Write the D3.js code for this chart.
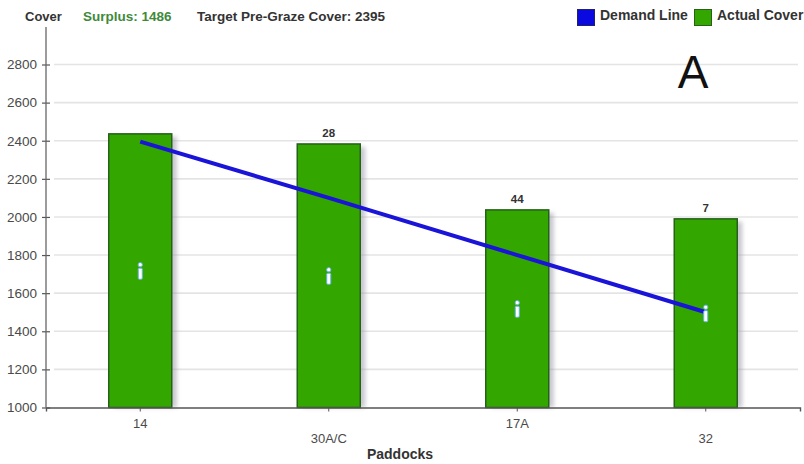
<!DOCTYPE html>
<html>
<head>
<meta charset="utf-8">
<script src="https://cdn.jsdelivr.net/npm/d3@7"></script>
<style>
  html, body { margin: 0; padding: 0; background: #fff; overflow: hidden; }
  svg { display: block; font-family: "Liberation Sans", Arial, sans-serif; }
</style>
</head>
<body>
<svg id="chart" width="804" height="464"></svg>
<script>
// Paddock cover compared with the grazing demand line
const paddocks = ["14", "30A/C", "17A", "32"];
const actualCover = [2436, 2383, 2037, 1990];
const demandLine = [2395, 2100, 1800, 1500];
const stockLabels = ["", "28", "44", "7"];
const yTicks = [1000, 1200, 1400, 1600, 1800, 2000, 2200, 2400, 2600, 2800];
const surplus = 1486;
const targetCover = 2395;

const BAR_GREEN = "#33a600";
const LINE_BLUE = "#1a14d8";

const svg = d3.select("#chart");

const margin = { left: 46, right: 800, top: 27, bottom: 407.5 };
const x = d3.scaleBand().domain(paddocks).range([margin.left, margin.right]);
const y = d3.scaleLinear().domain([1000, 2800]).range([margin.bottom, 64.5]);
const barWidth = 63;

const defs = svg.append("defs");
const shadow = defs.append("filter").attr("id", "barShadow")
  .attr("x", "-20%").attr("width", "140%");
shadow.append("feGaussianBlur").attr("stdDeviation", 2);

// Horizontal grid
svg.append("g").selectAll("line")
  .data(yTicks.filter(d => d > 1000))
  .join("line")
  .attr("x1", 54).attr("x2", 798)
  .attr("y1", d => y(d)).attr("y2", d => y(d))
  .attr("stroke", "#e4e4e4").attr("stroke-width", 1.6);

// Soft shadow to the right of each bar
svg.append("g").selectAll("rect")
  .data(paddocks)
  .join("rect")
  .attr("x", d => x(d) + x.bandwidth() / 2 - barWidth / 2 + 5)
  .attr("y", (d, i) => y(actualCover[i]) + 3)
  .attr("width", barWidth)
  .attr("height", (d, i) => y(1000) - y(actualCover[i]) - 3)
  .attr("fill", "#9a9aa8")
  .attr("opacity", 0.55)
  .attr("filter", "url(#barShadow)");

// Actual cover bars
svg.append("g").selectAll("rect")
  .data(paddocks)
  .join("rect")
  .attr("x", d => x(d) + x.bandwidth() / 2 - barWidth / 2)
  .attr("y", (d, i) => y(actualCover[i]))
  .attr("width", barWidth)
  .attr("height", (d, i) => y(1000) - y(actualCover[i]))
  .attr("fill", BAR_GREEN)
  .attr("stroke", "#26601a")
  .attr("stroke-width", 1.5);

// Axes
const yAxis = d3.axisLeft(y).tickValues(yTicks).tickFormat(d3.format("d")).tickSize(0).tickPadding(9);
const gy = svg.append("g").attr("transform", `translate(${margin.left},0)`).call(yAxis);
gy.select(".domain").remove();
gy.selectAll("text").attr("font-size", 13.5).attr("fill", "#4a4a4a");
gy.selectAll(".tick").append("line").attr("x1", -4).attr("x2", 4)
  .attr("stroke", "#555").attr("stroke-width", 1.2);

svg.append("line")
  .attr("x1", margin.left).attr("x2", margin.left)
  .attr("y1", margin.top).attr("y2", margin.bottom)
  .attr("stroke", "#666").attr("stroke-width", 1.3);

const xAxis = d3.axisBottom(x).tickSize(4).tickPadding(0);
const gx = svg.append("g").attr("transform", `translate(0,${margin.bottom})`).call(xAxis);
gx.select(".domain").attr("stroke", "#555").attr("stroke-width", 1.4);
gx.selectAll(".tick line").attr("stroke", "#555");
gx.selectAll(".tick text")
  .attr("font-size", 13).attr("fill", "#4a4a4a")
  .attr("dy", null)
  .attr("y", (d, i) => (i % 2 ? 35 : 20));

// Demand line
svg.append("path")
  .datum(paddocks)
  .attr("fill", "none")
  .attr("stroke", LINE_BLUE)
  .attr("stroke-width", 4)
  .attr("d", d3.line()
    .x(d => x(d) + x.bandwidth() / 2)
    .y((d, i) => y(demandLine[i])));

// Info markers halfway up each bar: a dot over a short stem
const infoMarks = svg.append("g").selectAll("g")
  .data(paddocks)
  .join("g")
  .attr("transform", (d, i) =>
    `translate(${x(d) + x.bandwidth() / 2},${y((actualCover[i] + 1000) / 2)})`);
infoMarks.append("rect").attr("x", -2).attr("y", -8).attr("width", 4).attr("height", 4).attr("rx", 1.5);
infoMarks.append("rect").attr("x", -2).attr("y", -2.5).attr("width", 4).attr("height", 11).attr("rx", 1);
infoMarks.selectAll("rect").attr("fill", "#fff").attr("stroke", "#66b4e6").attr("stroke-width", 1);

// Stock counts above the bars
svg.append("g").selectAll("text")
  .data(paddocks)
  .join("text")
  .attr("x", d => x(d) + x.bandwidth() / 2)
  .attr("y", (d, i) => y(actualCover[i]) - 7)
  .attr("text-anchor", "middle")
  .attr("font-size", 11.5)
  .attr("font-weight", "bold")
  .attr("fill", "#333")
  .text((d, i) => stockLabels[i]);

// Header line
const header = svg.append("g").attr("font-size", 13.5).attr("font-weight", "bold");
header.append("text").attr("x", 25).attr("y", 21).attr("font-size", 13).attr("fill", "#333").text("Cover");
header.append("text").attr("x", 83).attr("y", 21).attr("fill", "#3e8a3a").text(`Surplus: ${surplus}`);
header.append("text").attr("x", 197).attr("y", 21).attr("fill", "#333").text(`Target Pre-Graze Cover: ${targetCover}`);

// Legend
const legend = svg.append("g").attr("font-size", 14).attr("font-weight", "bold").attr("fill", "#333");
legend.append("rect").attr("x", 577.5).attr("y", 9.5).attr("width", 17).attr("height", 16)
  .attr("fill", "#0a0ae0").attr("stroke", "#22226a");
legend.append("text").attr("x", 600).attr("y", 20).text("Demand Line");
legend.append("rect").attr("x", 694.5).attr("y", 9.5).attr("width", 17).attr("height", 16)
  .attr("fill", BAR_GREEN).attr("stroke", "#26601a");
legend.append("text").attr("x", 717).attr("y", 20).text("Actual Cover");

// Axis title and panel letter
svg.append("text").attr("x", 400).attr("y", 459)
  .attr("text-anchor", "middle").attr("font-size", 14).attr("font-weight", "bold")
  .attr("fill", "#333").text("Paddocks");
svg.append("text").attr("x", 693).attr("y", 88)
  .attr("text-anchor", "middle").attr("font-size", 46).attr("fill", "#111").text("A");
</script>
</body>
</html>
